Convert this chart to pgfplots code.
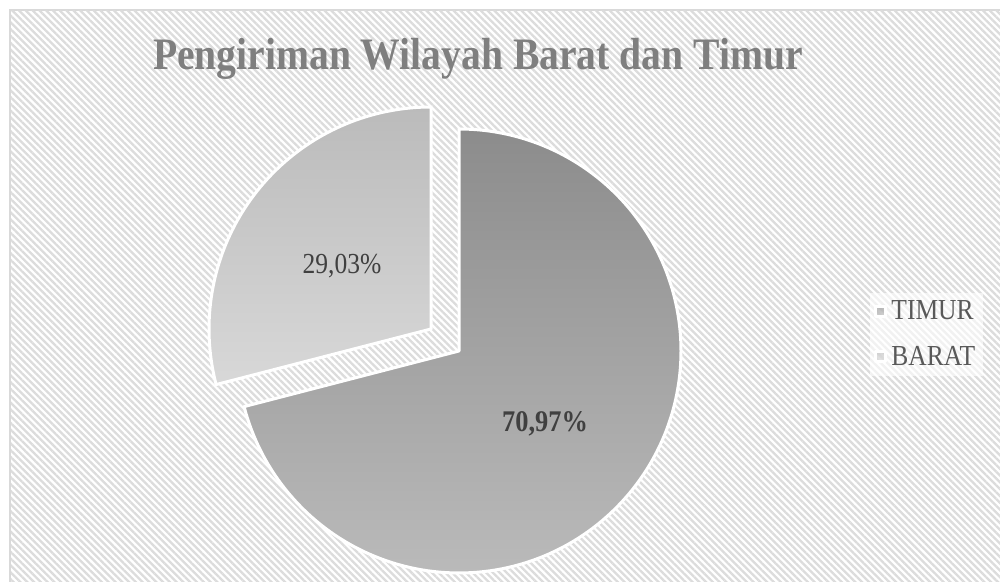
\documentclass[border=0pt]{standalone}
\usepackage{pgfplots}
\pgfplotsset{compat=1.18}
\usetikzlibrary{patterns.meta}
\usepackage{fontspec}
\setmainfont[FakeStretch=0.88]{Liberation Serif}
\definecolor{framegray}{HTML}{D9D9D9}
\definecolor{hatch}{HTML}{DCDCDC}
\definecolor{timurtop}{HTML}{8C8C8C}
\definecolor{timurbot}{HTML}{BABABA}
\definecolor{barattop}{HTML}{BBBBBB}
\definecolor{baratbot}{HTML}{D8D8D8}
\definecolor{titlegray}{HTML}{7F7F7F}
\definecolor{labelgray}{HTML}{404040}
\definecolor{leggray}{HTML}{595959}
% data (percent)
\def\vTimur{70.97}
\def\vBarat{29.03}
\pgfmathsetmacro\tA{90-3.6*\vTimur}
\pgfmathsetmacro\bB{90+3.6*\vBarat}
\begin{document}
\begin{tikzpicture}
\useasboundingbox (0,0) rectangle (500pt,291pt);
\fill[white] (0,0) rectangle (500pt,291pt);
\draw[line width=1pt, draw=framegray, fill=white] (5pt,-5pt) rectangle (506pt,286pt);
\fill[pattern={Lines[angle=-45,distance=2.4pt,line width=1.15pt]}, pattern color=hatch] (5.5pt,-5pt) rectangle (506pt,285.5pt);
\begin{axis}[at={(0,0)}, anchor=south west, width=500pt, height=291pt, scale only axis,
  xmin=0, xmax=1000, ymin=0, ymax=582, axis lines=none, clip=false,
  legend style={at={(axis cs:870,247.5)}, anchor=west, draw=none, fill=white, fill opacity=0.6, text opacity=1,
    font=\fontsize{14.5}{17}\selectfont, text=leggray, row sep=7.5pt, inner sep=2pt},
  legend cell align=left]
\addplot[draw=white, line width=1.5pt, line join=round, top color=timurtop, bottom color=timurbot,
  domain=\tA:90, samples=160,
  legend image code/.code={\shade[top color=timurtop, bottom color=timurbot] (0pt,-2.5pt) rectangle (5pt,2.5pt);}]
  ({459+222*cos(x)},{231+222*sin(x)}) -- (axis cs:459,231) -- cycle;
\addlegendentry{TIMUR}
\addplot[draw=white, line width=1.5pt, line join=round, top color=barattop, bottom color=baratbot,
  domain=90:\bB, samples=80,
  legend image code/.code={\shade[top color=barattop, bottom color=baratbot] (0pt,-2.5pt) rectangle (5pt,2.5pt);}]
  ({431+222*cos(x)},{253+222*sin(x)}) -- (axis cs:431,253) -- cycle;
\addlegendentry{BARAT}
\node[font=\fontsize{14.5}{17}\selectfont, text=labelgray] at (axis cs:342,316) {29,03\%};
\node[font=\fontsize{15}{18}\selectfont\bfseries, text=labelgray] at (axis cs:545,158) {70,97\%};
\node[font=\fontsize{22.5}{27}\selectfont\bfseries, text=titlegray] at (axis cs:478,523) {Pengiriman Wilayah Barat dan Timur};
\end{axis}
\end{tikzpicture}
\end{document}
